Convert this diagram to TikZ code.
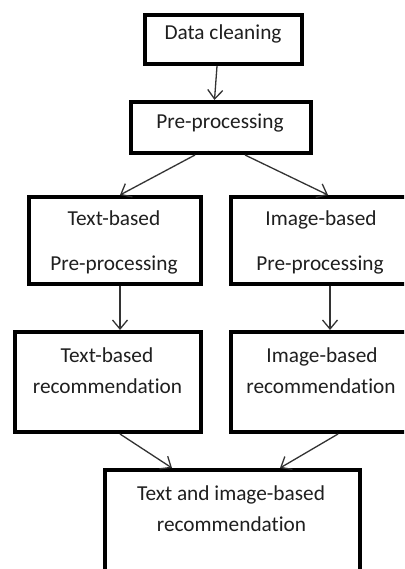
\documentclass[tikz,border=0pt]{standalone}
\usepackage{fontspec}
\setmainfont[Ligatures={NoCommon,NoContextual}]{Carlito}
\usetikzlibrary{arrows.meta}
\begin{document}
\begin{tikzpicture}[x=1pt,y=-1pt,
  box/.style={draw=black,line width=4pt,minimum width=#1,inner sep=0pt},
  txt/.style={anchor=base,inner sep=0pt,text=black!88,font=\fontsize{21.3}{26}\selectfont},
  arr/.style={draw=black!80,line width=1.3pt,-{Straight Barb[length=9pt,width=15pt]}}]
\useasboundingbox (0,0) rectangle (404,569);
\clip (0,0) rectangle (404,569);
\fill[white] (0,0) rectangle (404,569);
% boxes
\node[box=157pt,minimum height=49pt] (b1) at (223.5,39.5) {};
\node[box=180pt,minimum height=51pt] (b2) at (221,127.5) {};
\node[box=172pt,minimum height=87pt] (b3) at (115,240.5) {};
\node[box=180pt,minimum height=87pt] (b4) at (321,240.5) {};
\node[box=186pt,minimum height=100pt] (b5) at (108,382) {};
\node[box=180pt,minimum height=100pt] (b6) at (321,382) {};
\node[box=255pt,minimum height=130pt] (b7) at (232.5,535) {};
% texts
\node[txt] (t1) at (223,40) {Data cleaning};
\node[txt] (t2) at (220,128.5) {Pre-processing};
\node[txt] (t3a) at (114,225) {Text-based};
\node[txt] (t3b) at (114,270) {Pre-processing};
\node[txt] (t4a) at (321,225) {Image-based};
\node[txt] (t4b) at (320,270) {Pre-processing};
\node[txt] (t5a) at (107,362.5) {Text-based};
\node[txt] (t5b) at (107.5,393) {recommendation};
\node[txt] (t6a) at (322,362.5) {Image-based};
\node[txt] (t6b) at (321,393) {recommendation};
\node[txt] (t7a) at (231,500.5) {Text and image-based};
\node[txt] (t7b) at (231.5,531) {recommendation};
% connectors
\draw[arr] ([xshift=-6.5pt]b1.south) -- ([xshift=-6.5pt]b2.north);
\draw[arr] ([xshift=-26pt]b2.south) -- ([xshift=5pt]b3.north);
\draw[arr] ([xshift=24pt]b2.south) -- ([xshift=7pt]b4.north);
\draw[arr] ([xshift=5pt]b3.south) -- ([xshift=12pt]b5.north);
\draw[arr] ([xshift=9pt]b4.south) -- ([xshift=9pt]b6.north);
\draw[arr] ([xshift=12pt]b5.south) -- ([xshift=-60.5pt]b7.north);
\draw[arr] ([xshift=17pt]b6.south) -- ([xshift=47.5pt]b7.north);
\end{tikzpicture}
\end{document}
